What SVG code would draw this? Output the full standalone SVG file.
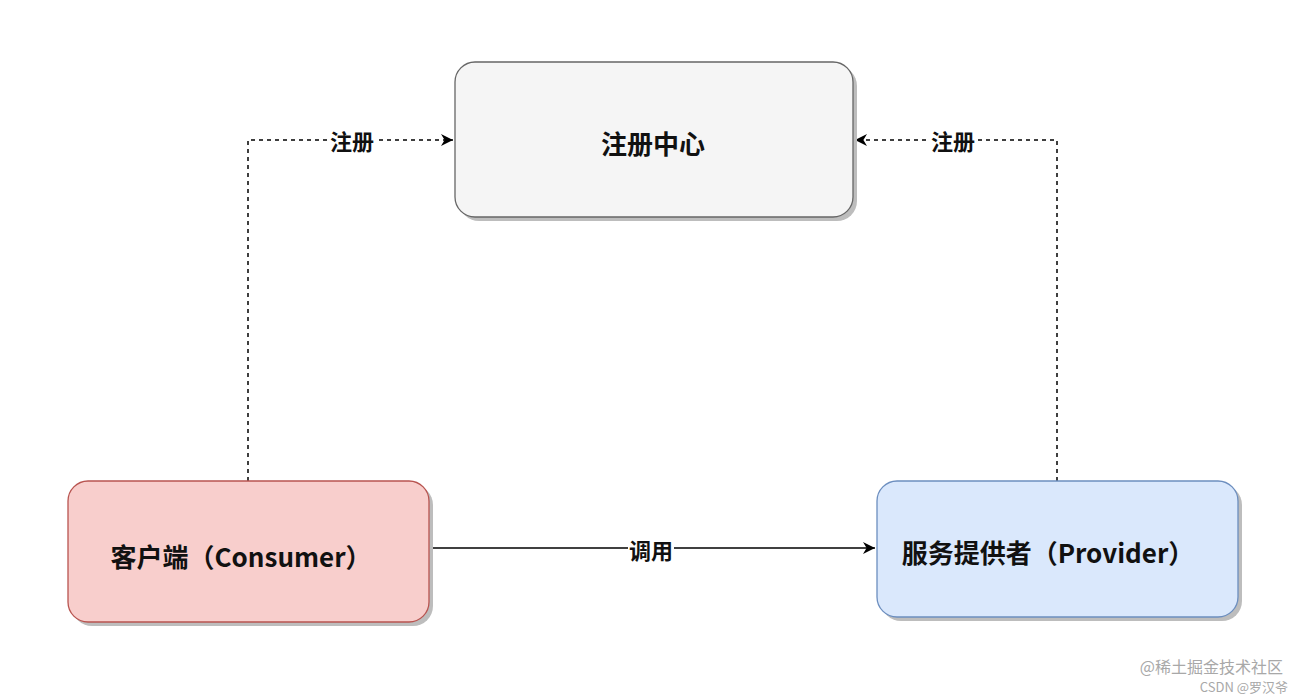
<svg xmlns="http://www.w3.org/2000/svg" width="1304" height="698" viewBox="0 0 1304 698">
<defs>
<style>
.box{stroke-width:1.3}
.shadow{fill:#bdbdbd}
.lbl{font-family:"Noto Sans CJK SC","Noto Sans",sans-serif;font-weight:bold;font-size:26px;fill:#111;text-anchor:middle;dominant-baseline:central}
.edge{fill:none;stroke:#000;stroke-width:1.5}
.dash{stroke-dasharray:4 4}
.elbl{font-family:"Noto Sans CJK SC",sans-serif;font-weight:bold;font-size:22px;fill:#111;text-anchor:middle;dominant-baseline:central}
.wm{font-family:"Noto Sans CJK SC","Liberation Sans",sans-serif;fill:#a8a8a8}
</style>
<marker id="arr" viewBox="0 0 10 10" refX="10" refY="5" markerWidth="12" markerHeight="12" orient="auto" markerUnits="userSpaceOnUse">
<path d="M0,0 L10,5 L0,10 L3,5 Z" fill="#000"/>
</marker>
</defs>
<rect width="1304" height="698" fill="#fff"/>
<g id="edges">
<path class="edge dash" d="M248,481 V140 H453" marker-end="url(#arr)"/>
<rect x="329" y="128" width="46" height="24" fill="#fff"/>
<text class="elbl" x="352" y="140">注册</text>
<path class="edge dash" d="M1057,481 V140 H855" marker-end="url(#arr)"/>
<rect x="930" y="128" width="46" height="24" fill="#fff"/>
<text class="elbl" x="953" y="140">注册</text>
<path class="edge" d="M429,548 H875" marker-end="url(#arr)"/>
<rect x="628" y="536" width="46" height="24" fill="#fff"/>
<text class="elbl" x="651" y="549">调用</text>
</g>
<g id="registry">
<rect class="shadow" x="459" y="66" width="398" height="155" rx="20"/>
<rect class="box" x="455" y="62" width="398" height="155" rx="20" fill="#f5f5f5" stroke="#666"/>
<text class="lbl" x="653" y="142" fill="#333">注册中心</text>
</g>
<g id="consumer">
<rect class="shadow" x="72" y="485" width="361" height="141" rx="20"/>
<rect class="box" x="68" y="481" width="361" height="141" rx="20" fill="#f8cecc" stroke="#b85450"/>
<text class="lbl" x="241" y="555">客户端（Consumer）</text>
</g>
<g id="provider">
<rect class="shadow" x="881" y="485" width="361" height="136" rx="20"/>
<rect class="box" x="877" y="481" width="361" height="136" rx="20" fill="#dae8fc" stroke="#6c8ebf"/>
<text class="lbl" x="1048" y="551">服务提供者（Provider）</text>
</g>
<g id="watermark">
<text class="wm" x="1283" y="673" font-size="16" text-anchor="end">@稀土掘金技术社区</text>
<text class="wm" x="1288" y="692" font-size="13" text-anchor="end">CSDN @罗汉爷</text>
</g>
</svg>
